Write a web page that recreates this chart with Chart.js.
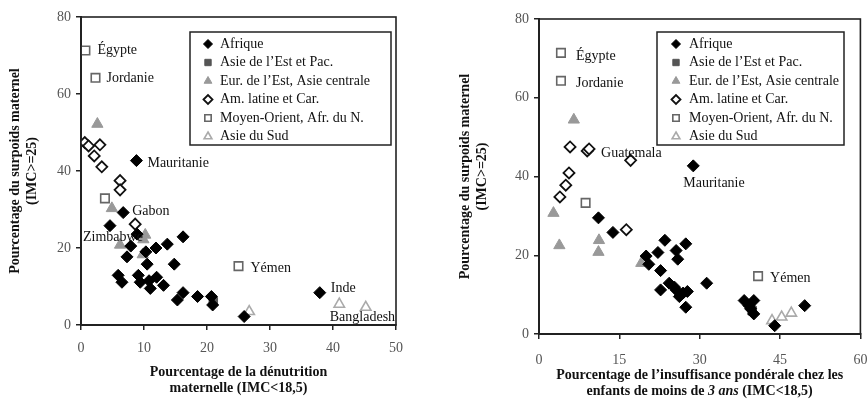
<!DOCTYPE html>
<html>
<head>
<meta charset="utf-8">
<script src="https://cdn.jsdelivr.net/npm/chart.js@4/dist/chart.umd.min.js"></script>
<style>
html, body { margin: 0; padding: 0; background: #fff; }
#wrap { width: 868px; height: 401px; display: flex; }
canvas { display: block; }
</style>
</head>
<body>
<div id="wrap">
  <canvas id="chartLeft" width="434" height="401"></canvas>
  <canvas id="chartRight" width="434" height="401"></canvas>
</div>
<script>
'use strict';

// ---- data ----
const seriesNames = ['Afrique', 'Asie de l\u2019Est et Pac.', 'Eur. de l\u2019Est, Asie centrale',
    'Am. latine et Car.', 'Moyen-Orient, Afr. du N.', 'Asie du Sud'];

// left : maternal underweight vs maternal overweight
const afriqueL = [[8.8, 42.7], [6.7, 29.2], [4.6, 25.8], [8.9, 23.6], [7.9, 20.5], [10.3, 19], [7.3, 17.7],
    [11.9, 20], [13.7, 21], [16.2, 22.9], [10.5, 15.8], [14.8, 15.8], [5.9, 12.9], [6.5, 11.1], [9.1, 12.9],
    [9.4, 11.1], [10.8, 11.5], [12.0, 12.4], [11.0, 9.5], [13.1, 10.3], [15.3, 6.5], [16.2, 8.4], [18.5, 7.4],
    [20.7, 7.4], [20.9, 5.2], [37.9, 8.4], [25.9, 2.2]];
const asieEstL = [[21.0, 6.1]];
const eurEstL = [[2.6, 52.2], [4.9, 30.3], [6.2, 20.8], [10.2, 23.4], [9.9, 22.2], [9.8, 18.3]];
const amLatL = [[0.6, 47.4], [1.2, 46.5], [3.0, 46.8], [2.1, 43.9], [3.3, 41.1], [6.2, 37.5], [6.2, 35.1], [8.6, 26.2]];
const moyenOrL = [[0.7, 71.3], [2.3, 64.2], [3.8, 32.9], [25.0, 15.3]];
const asieSudL = [[26.7, 3.5], [41.0, 5.4], [45.2, 4.6]];

// right : child underweight vs maternal overweight
const afriqueR = [[28.8, 42.7], [11.1, 29.5], [13.8, 25.8], [23.5, 23.8], [20.0, 19.8], [20.5, 17.7], [22.2, 20.7],
    [25.6, 21.2], [25.9, 19.0], [27.4, 22.9], [22.7, 16.1], [22.7, 11.2], [24.3, 12.9], [25.3, 11.9], [25.6, 11.2],
    [26.2, 9.5], [26.9, 10.4], [27.7, 10.8], [27.4, 6.8], [31.3, 12.9], [38.3, 8.5], [40.1, 8.5], [39.2, 7.2],
    [40.1, 5.1], [39.5, 6.4], [44.0, 2.1], [49.6, 7.2]];
const asieEstR = [[39.8, 5.9]];
const eurEstR = [[6.5, 54.4], [2.7, 30.7], [3.8, 22.5], [11.2, 23.8], [11.1, 20.8], [19.1, 18.0]];
const amLatR = [[5.8, 47.5], [9.0, 46.5], [9.35, 47], [17.1, 44.1], [5.6, 40.9], [5.0, 37.8], [3.9, 34.8], [16.3, 26.5]];
const moyenOrR = [[4.1, 71.4], [4.1, 64.3], [8.7, 33.3], [40.9, 14.7]];
const asieSudR = [[43.5, 3.4], [45.3, 4.3], [47.1, 5.3]];

const yTicks = [0, 20, 40, 60, 80];
const xTicksL = [0, 10, 20, 30, 40, 50];
const xTicksR = [0, 15, 30, 45, 60];

const yTitle = ['Pourcentage du surpoids maternel', '(IMC>=25)'];
// each line: list of [text, italic]
const xTitleL = [[['Pourcentage de la d\u00e9nutrition', false]], [['maternelle (IMC<18,5)', false]]];
const xTitleR = [[['Pourcentage de l\u2019insuffisance pond\u00e9rale chez les', false]],
    [['enfants de moins de ', false], ['3 ans', true], [' (IMC<18,5)', false]]];

// country notes: [text, series index, point index]
const notesL = [['\u00c9gypte', 4, 0], ['Jordanie', 4, 1], ['Mauritanie', 0, 0], ['Gabon', 0, 1],
    ['Zimbabwe', 0, 2], ['Y\u00e9men', 4, 3], ['Inde', 0, 25], ['Bangladesh', 5, 2]];
const notesR = [['\u00c9gypte', 4, 0], ['Jordanie', 4, 1], ['Guatemala', 3, 2], ['Mauritanie', 0, 0],
    ['Y\u00e9men', 4, 3]];

// ---- styles ----
const FONT = "'Liberation Serif', 'Times New Roman', serif";
Chart.defaults.font.family = FONT;

const noteOffsetsL = [[12, 0], [11, 0], [11, 3], [9, -1], [-27, 12], [12, 2], [11, -4], [-36, 10]];
const noteOffsetsR = [[15, 3], [15, 3], [12, 4], [-10, 17], [12, 2]];

const seriesStyles = [
    {pointStyle: 'rectRot', radius: 6, bg: '#000', border: '#000', bw: 1},
    {pointStyle: 'rect', radius: 6, bg: '#555', border: '#555', bw: 1},
    {pointStyle: 'triangle', radius: 6.5, bg: '#999', border: '#999', bw: 1},
    {pointStyle: 'rectRot', radius: 5.5, bg: '#fff', border: '#111', bw: 1.8},
    {pointStyle: 'rect', radius: 6, bg: '#fff', border: '#666', bw: 1.6},
    {pointStyle: 'triangle', radius: 6, bg: '#fff', border: '#aaa', bw: 1.6}
];

function toPoints(arr) {
    return arr.map(function (p) { return {x: p[0], y: p[1]}; });
}

function makeDatasets(list) {
    let datasets = [];
    list.forEach(function (arr, idx) {
        let st = seriesStyles[idx];
        datasets.push({
            label: seriesNames[idx],
            data: toPoints(arr),
            pointStyle: st.pointStyle,
            pointRadius: st.radius,
            pointBackgroundColor: st.bg,
            pointBorderColor: st.border,
            pointBorderWidth: st.bw,
            backgroundColor: st.bg,
            borderColor: st.border
        });
    });
    return datasets;
}

// frame around the plot area
const framePlugin = {
    id: 'frame',
    afterDraw(chart) {
        const a = chart.chartArea;
        const ctx = chart.ctx;
        ctx.save();
        ctx.strokeStyle = '#222';
        ctx.lineWidth = 1.6;
        ctx.strokeRect(a.left, a.top, a.right - a.left, a.bottom - a.top);
        ctx.restore();
    }
};

// boxed legend inside the plot
const boxLegend = {
    id: 'boxLegend',
    afterDraw(chart, args, opts) {
        const ctx = chart.ctx;
        ctx.save();
        ctx.fillStyle = '#fff';
        ctx.fillRect(opts.x, opts.y, opts.w, opts.h);
        ctx.strokeStyle = '#222';
        ctx.lineWidth = 1.5;
        ctx.strokeRect(opts.x, opts.y, opts.w, opts.h);
        chart.data.datasets.forEach(function (ds, i) {
            const y = opts.y + opts.first + i * opts.step;
            ctx.fillStyle = ds.pointBackgroundColor;
            ctx.strokeStyle = ds.pointBorderColor;
            ctx.lineWidth = ds.pointBorderWidth;
            Chart.helpers.drawPoint(ctx, {
                pointStyle: ds.pointStyle,
                radius: opts.radius,
                rotation: 0,
                borderWidth: ds.pointBorderWidth
            }, opts.x + opts.markerX, y);
            ctx.fillStyle = '#111';
            ctx.font = opts.font;
            ctx.textAlign = 'left';
            ctx.textBaseline = 'middle';
            ctx.fillText(ds.label, opts.x + opts.textX, y);
        });
        ctx.restore();
    }
};

// country names next to points
const notesPlugin = {
    id: 'notes',
    afterDatasetsDraw(chart, args, opts) {
        const ctx = chart.ctx;
        ctx.save();
        ctx.fillStyle = '#111';
        ctx.font = opts.font;
        ctx.textAlign = 'left';
        ctx.textBaseline = 'middle';
        opts.notes.forEach(function (n, i) {
            const el = chart.getDatasetMeta(n[1]).data[n[2]];
            const off = opts.offsets[i];
            ctx.fillText(n[0], el.x + off[0], el.y + off[1]);
        });
        ctx.restore();
    }
};

// x axis title with mixed italic runs
const xTitlePlugin = {
    id: 'xTitle',
    afterDraw(chart, args, opts) {
        const ctx = chart.ctx;
        const a = chart.chartArea;
        const cx = (a.left + a.right) / 2;
        ctx.save();
        ctx.fillStyle = '#111';
        ctx.textAlign = 'left';
        ctx.textBaseline = 'middle';
        opts.lines.forEach(function (runs, li) {
            let total = 0;
            runs.forEach(function (r) {
                ctx.font = (r[1] ? 'italic ' : '') + 'bold ' + opts.size + 'px ' + FONT;
                total += ctx.measureText(r[0]).width;
            });
            let x = cx - total / 2;
            const y = opts.y[li];
            runs.forEach(function (r) {
                ctx.font = (r[1] ? 'italic ' : '') + 'bold ' + opts.size + 'px ' + FONT;
                ctx.fillText(r[0], x, y);
                x += ctx.measureText(r[0]).width;
            });
        });
        ctx.restore();
    }
};

function makeChart(canvasId, lists, xTicks, xMax, cfg) {
    new Chart(document.getElementById(canvasId), {
        type: 'scatter',
        data: {datasets: makeDatasets(lists)},
        plugins: [framePlugin, notesPlugin, boxLegend, xTitlePlugin],
        options: {
            responsive: false,
            animation: false,
            layout: {padding: cfg.padding},
            scales: {
                x: {
                    type: 'linear',
                    min: 0,
                    max: xMax,
                    afterBuildTicks: function (scale) {
                        scale.ticks = xTicks.map(function (v) { return {value: v}; });
                    },
                    afterFit: function (scale) {
                        scale.height = cfg.xHeight;
                        scale.paddingLeft = 0;
                        scale.paddingRight = 0;
                    },
                    ticks: {
                        color: '#555',
                        padding: cfg.xTickPad,
                        maxRotation: 0,
                        font: {size: 14}
                    },
                    grid: {drawOnChartArea: false, tickLength: 5, color: '#222', lineWidth: 1.5},
                    border: {color: '#222', width: 2}
                },
                y: {
                    type: 'linear',
                    min: 0,
                    max: 80,
                    afterBuildTicks: function (scale) {
                        scale.ticks = yTicks.map(function (v) { return {value: v}; });
                    },
                    afterFit: function (scale) {
                        scale.width = cfg.yWidth;
                        scale.paddingTop = 0;
                        scale.paddingBottom = 0;
                    },
                    ticks: {color: '#555', padding: 5, font: {size: 14}},
                    grid: {drawOnChartArea: false, tickLength: 5, color: '#222', lineWidth: 1.5},
                    border: {color: '#222', width: 2},
                    title: {
                        display: true,
                        text: yTitle,
                        color: '#111',
                        font: {size: 14, weight: 'bold'},
                        padding: {top: cfg.yTitlePad, bottom: 0}
                    }
                }
            },
            plugins: {
                legend: {display: false},
                tooltip: {enabled: false},
                notes: {notes: cfg.notes, offsets: cfg.noteOffsets, font: '14px ' + FONT},
                boxLegend: {
                    x: cfg.legend[0], y: cfg.legend[1], w: cfg.legend[2], h: cfg.legend[3],
                    first: 12, step: 18.5, markerX: cfg.legendMarkerX, textX: cfg.legendTextX,
                    radius: 4.5, font: '14px ' + FONT
                },
                xTitle: {lines: cfg.xTitle, y: cfg.xTitleY, size: 14}
            }
        }
    });
}

makeChart('chartLeft', [afriqueL, asieEstL, eurEstL, amLatL, moyenOrL, asieSudL], xTicksL, 50, {
    padding: {top: 17, right: 38, left: 0, bottom: 0},
    xHeight: 76, yWidth: 81, xTickPad: 10, yTitlePad: 7,
    notes: notesL, noteOffsets: noteOffsetsL,
    legend: [190, 32, 201, 113], legendMarkerX: 18, legendTextX: 30,
    xTitle: xTitleL, xTitleY: [372, 388]
});

makeChart('chartRight', [afriqueR, asieEstR, eurEstR, amLatR, moyenOrR, asieSudR], xTicksR, 60, {
    padding: {top: 19, right: 6, left: 0, bottom: 0},
    xHeight: 67, yWidth: 105, xTickPad: 13, yTitlePad: 23,
    notes: notesR, noteOffsets: noteOffsetsR,
    legend: [223, 32, 187, 113], legendMarkerX: 19, legendTextX: 32,
    xTitle: xTitleR, xTitleY: [375, 391]
});
</script>
</body>
</html>
